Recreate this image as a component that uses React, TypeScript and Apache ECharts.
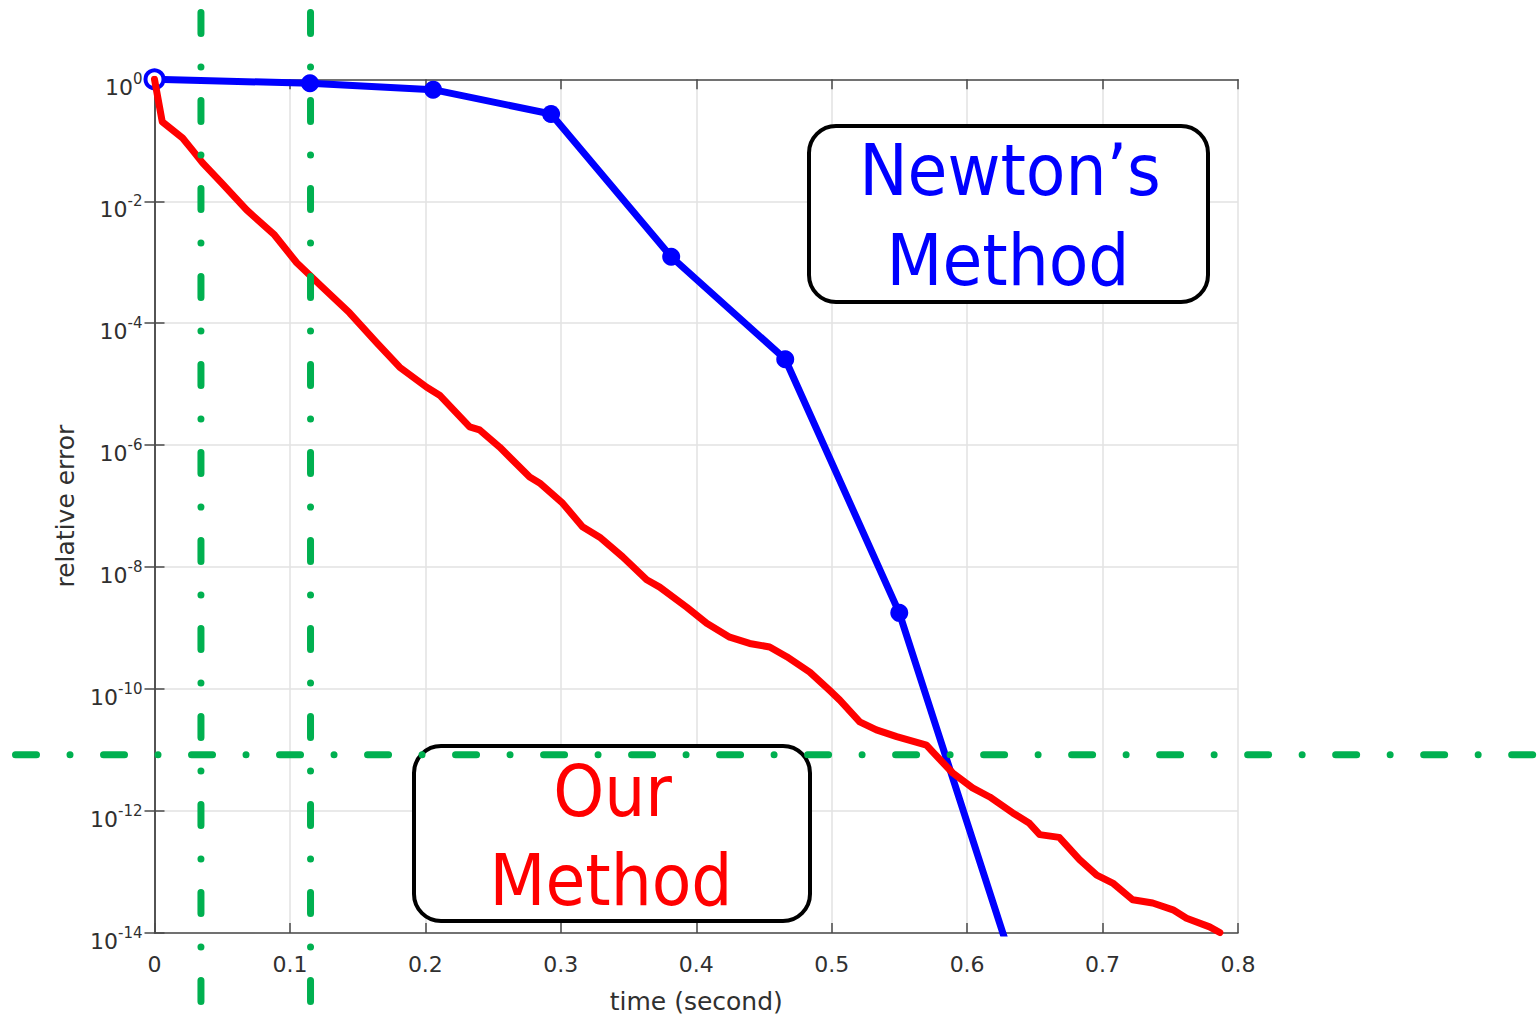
import React, { useEffect, useRef } from "react";
import * as echarts from "echarts";

// ---- data ----
const newtonTime = [0, 0.1148, 0.2057, 0.2928, 0.3815, 0.4657, 0.5499, 0.634];
const newtonError = [1, 0.86, 0.676, 0.27, 1.23e-3, 2.57e-5, 1.78e-9, 3.0e-15];

const ourTime = [
  0, 0.0057, 0.0207, 0.028, 0.0355, 0.0495, 0.068, 0.0886, 0.105, 0.124, 0.144,
  0.164, 0.181, 0.201, 0.2105, 0.2327, 0.24, 0.2548, 0.277, 0.2843, 0.3013,
  0.316, 0.3287, 0.3456, 0.3634, 0.373, 0.393, 0.4077, 0.4247, 0.4394, 0.4542,
  0.4668, 0.4838, 0.4985, 0.506, 0.5207, 0.533, 0.548, 0.57, 0.5746, 0.5894,
  0.604, 0.6167, 0.6337, 0.646, 0.6536, 0.668, 0.683, 0.6957, 0.7075, 0.7223,
  0.737, 0.752, 0.762, 0.779, 0.7866,
];
const ourError = [
  1, 0.202, 0.109, 0.069, 0.0427, 0.02, 7.2e-3, 2.8e-3, 9.8e-4, 3.9e-4, 1.48e-4,
  4.8e-5, 1.9e-5, 8.9e-6, 6.6e-6, 2.0e-6, 1.78e-6, 9.3e-7, 3.0e-7, 2.4e-7, 1.12e-7,
  4.6e-8, 3.1e-8, 1.48e-8, 6.2e-9, 4.7e-9, 2.2e-9, 1.2e-9, 7.1e-10, 5.6e-10, 4.9e-10,
  3.4e-10, 1.9e-10, 9.5e-11, 6.6e-11, 2.9e-11, 2.14e-11, 1.66e-11, 1.2e-11, 9.3e-12, 4.2e-12,
  2.4e-12, 1.7e-12, 9.3e-13, 6.3e-13, 4.1e-13, 3.7e-13, 1.6e-13, 8.9e-14, 6.6e-14, 3.5e-14,
  3.1e-14, 2.4e-14, 1.74e-14, 1.26e-14, 1.02e-14,
];

// axis ranges / ticks
const xMin = 0;
const xMax = 0.8;
const xStep = 0.1;
const yExpMin = -14;
const yExpMax = 0;
const yExpStep = 2;

// annotation reference lines (data coordinates)
const markTimes = [0.0343, 0.1152];
const markError = 8.4e-12;

// annotation labels
const newtonLabel = ["Newton\u2019s", "Method"];
const ourLabel = ["Our", "Method"];

const FONT = '"DejaVu Sans", "Liberation Sans", Arial, sans-serif';
const BOX_FONT = '"DejaVu Sans Condensed", "Liberation Sans", sans-serif';
const AXIS_COLOR = "#4a4a4a";
const TEXT_COLOR = "#303030";
const GRID_COLOR = "#e2e2e2";
const GREEN = "#00b050";

export default function App() {
  const ref = useRef<HTMLDivElement>(null);

  useEffect(() => {
    if (!ref.current) return;
    const chart = echarts.init(ref.current, null, { renderer: "svg" });

    const toPts = (ts: number[], es: number[]) =>
      ts.map((t, i) => [t, Math.log10(es[i])]);

    const hiddenAxisCommon = {
      axisLine: { show: true, lineStyle: { color: AXIS_COLOR, width: 1.5 } },
      axisTick: { show: true, inside: true, length: 10, lineStyle: { color: AXIS_COLOR, width: 1.5 } },
      axisLabel: { show: false },
      splitLine: { show: false },
    };

    const newtonData = toPts(newtonTime, newtonError).map((p, i) =>
      i === 0
        ? { value: p, itemStyle: { color: "#ffffff", borderColor: "#0000ff", borderWidth: 4 } }
        : { value: p }
    );

    chart.setOption({
      animation: false,
      backgroundColor: "#ffffff",
      grid: { left: 154.5, top: 79.3, right: 299, bottom: 90, containLabel: false },
      xAxis: [
        {
          type: "value",
          min: xMin,
          max: xMax,
          interval: xStep,
          name: "time (second)",
          nameLocation: "middle",
          nameGap: 56,
          nameTextStyle: { fontFamily: FONT, fontSize: 25, color: TEXT_COLOR },
          axisLine: { show: true, onZero: false, lineStyle: { color: AXIS_COLOR, width: 1.5 } },
          axisTick: { show: true, inside: true, length: 10, lineStyle: { color: AXIS_COLOR, width: 1.5 } },
          axisLabel: {
            fontFamily: FONT,
            fontSize: 22,
            color: TEXT_COLOR,
            margin: 20,
            formatter: (v: number) => String(Math.round(v * 10) / 10),
          },
          splitLine: { show: true, lineStyle: { color: GRID_COLOR, width: 1.5 } },
        },
        {
          type: "value",
          position: "top",
          min: xMin,
          max: xMax,
          interval: xStep,
          ...hiddenAxisCommon,
        },
      ],
      yAxis: [
        {
          type: "value",
          min: yExpMin,
          max: yExpMax,
          interval: yExpStep,
          name: "relative error",
          nameLocation: "middle",
          nameGap: 77,
          nameRotate: 90,
          nameTextStyle: { fontFamily: FONT, fontSize: 25, color: TEXT_COLOR },
          axisLine: { show: true, onZero: false, lineStyle: { color: AXIS_COLOR, width: 1.5 } },
          axisTick: { show: true, inside: true, length: 10, lineStyle: { color: AXIS_COLOR, width: 1.5 } },
          axisLabel: {
            margin: 12,
            padding: [12, 0, 0, 0],
            formatter: (v: number) => `{b|10}{s|${Math.round(v)}}`,
            rich: {
              b: { fontFamily: FONT, fontSize: 22, color: TEXT_COLOR, lineHeight: 27, verticalAlign: "bottom" },
              s: { fontFamily: FONT, fontSize: 15, color: TEXT_COLOR, lineHeight: 27, verticalAlign: "top" },
            },
          },
          splitLine: { show: true, lineStyle: { color: GRID_COLOR, width: 1.5 } },
        },
        {
          type: "value",
          position: "right",
          min: yExpMin,
          max: yExpMax,
          interval: yExpStep,
          ...hiddenAxisCommon,
        },
      ],
      series: [
        {
          name: "Newton's Method",
          type: "line",
          data: newtonData,
          symbol: "circle",
          symbolSize: 18,
          showAllSymbol: true,
          clip: true,
          lineStyle: { color: "#0000ff", width: 7 },
          itemStyle: { color: "#0000ff" },
          z: 3,
        },
        {
          name: "Our Method",
          type: "line",
          data: toPts(ourTime, ourError),
          symbol: "none",
          clip: true,
          lineStyle: { color: "#ff0000", width: 7, join: "round", cap: "round" },
          z: 4,
        },
      ],
    });

    const vx = markTimes.map((t) => chart.convertToPixel({ xAxisIndex: 0 }, t) as number);
    const hy = chart.convertToPixel({ yAxisIndex: 0 }, Math.log10(markError)) as number;

    const dashStyle = {
      stroke: GREEN,
      lineWidth: 7,
      lineDash: [21, 33.5, 0.01, 33.5],
      lineCap: "round",
    };

    const boxStyle = { fill: "#ffffff", stroke: "#000000", lineWidth: 4 };

    const boxText = (text: string, x: number, y: number, color: string) => ({
      type: "text",
      x,
      y,
      z: 101,
      silent: true,
      style: {
        text,
        fill: color,
        font: `72px ${BOX_FONT}`,
        textAlign: "center",
        textVerticalAlign: "middle",
      },
    });

    chart.setOption({
      graphic: [
        { type: "rect", z: 100, silent: true, shape: { x: 809, y: 126, width: 399, height: 176, r: 27 }, style: boxStyle },
        boxText(newtonLabel[0], 1010, 170, "#0000ff"),
        boxText(newtonLabel[1], 1008, 259.5, "#0000ff"),
        { type: "rect", z: 100, silent: true, shape: { x: 414, y: 746, width: 396, height: 175, r: 27 }, style: boxStyle },
        boxText(ourLabel[0], 612.5, 790.5, "#ff0000"),
        boxText(ourLabel[1], 611, 879.5, "#ff0000"),
        ...vx.map((x) => ({
          type: "line",
          z: 110,
          silent: true,
          shape: { x1: x, y1: 12.5, x2: x, y2: 1004 },
          style: dashStyle,
        })),
        {
          type: "line",
          z: 110,
          silent: true,
          shape: { x1: 15.5, y1: hy, x2: 1545, y2: hy },
          style: dashStyle,
        },
      ],
    });

    return () => chart.dispose();
  }, []);

  return (
    <div
      ref={ref}
      style={{ position: "fixed", left: 0, top: 0, width: 1537, height: 1023, background: "#fff" }}
    />
  );
}
